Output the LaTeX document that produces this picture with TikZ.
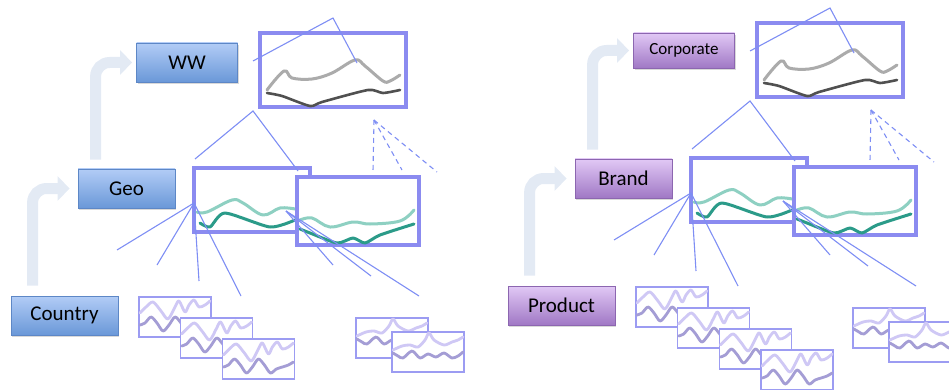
\documentclass[tikz,border=0pt]{standalone}
\usepackage{fontspec}
\setmainfont{Carlito}
\usetikzlibrary{arrows.meta,shadows}
\definecolor{flowgray}{HTML}{E3EAF4}
\definecolor{bluetop}{HTML}{B2CCF6}
\definecolor{bluebot}{HTML}{6A98D8}
\definecolor{blueline}{HTML}{5D87C6}
\definecolor{purpletop}{HTML}{E1C8F5}
\definecolor{purplebot}{HTML}{A078C5}
\definecolor{purpleline}{HTML}{8C66B0}
\definecolor{frameblue}{HTML}{8B8BF0}
\definecolor{zoomblue}{HTML}{7E8EF4}
\definecolor{graylight}{HTML}{ABABAB}
\definecolor{graydark}{HTML}{505050}
\definecolor{teallight}{HTML}{8ED0C2}
\definecolor{tealdark}{HTML}{2B9B89}
\definecolor{lavedge}{HTML}{9C9CF2}
\definecolor{lavlight}{HTML}{CFC8F5}
\definecolor{lavdark}{HTML}{A49DD5}
\begin{document}
\begin{tikzpicture}[x=1pt,y=-1pt,
  tierbox/.style={rectangle,draw=#1line,line width=0.8pt,top color=#1top,bottom color=#1bot,
    drop shadow={opacity=0.3,shadow xshift=1pt,shadow yshift=-2pt},
    font=\fontsize{21}{24}\selectfont,minimum height=39pt,inner sep=0pt},
  flow/.style={draw=flowgray,line width=11pt,rounded corners=14pt,-{Triangle[width=24pt,length=12pt]}},
  chartframe/.style={draw=frameblue,line width=#1,fill=white,inner sep=0pt},
  zoom/.style={draw=zoomblue,line width=1.1pt},
  trace/.style={line width=#1,line join=round,line cap=round},
  every pic/.style={line width=1.3pt},
  minichart/.pic={
    \draw[draw=lavedge,fill=white] (0,0) rectangle (72,40);
    \draw[trace=2.8pt,lavlight] plot[smooth,tension=0.5] coordinates {(1,16) (7,10) (14,5) (22,14) (29,22) (36,10) (40,4) (46,15) (50,8) (55,3) (60,10) (66,8) (71,4)};
    \draw[trace=2.8pt,lavdark] plot[smooth,tension=0.5] coordinates {(1,28) (6,26) (12,20) (18,26) (24,34) (30,28) (36,20) (42,26) (48,34) (54,30) (60,28) (66,26) (71,23)};
  },
  flatchart/.pic={
    \draw[draw=lavedge,fill=white] (0,0) rectangle (72,40);
    \draw[trace=2.8pt,lavlight] plot[smooth,tension=0.5] coordinates {(1,18) (10,14) (18,13) (26,15) (33,8) (37,1) (42,8) (52,13) (60,10) (66,8) (71,5)};
    \draw[trace=2.8pt,lavdark] plot[smooth,tension=0.5] coordinates {(1,21) (6,24) (11,26) (20,19) (28,26) (36,22) (44,25) (52,21) (60,26) (66,24) (71,20)};
  }]
\clip (0,0) rectangle (949,390);
\foreach \dx/\dy/\pre/\hue/\toptext/\tfs/\th/\tcy/\midtext/\bottext/\n in
  {0/0/l/blue/WW/21/39pt/62.5/Geo/Country/3,
   497/-10/r/purple/Corporate/17/35pt/60.5/Brand/Product/4}{
\begin{scope}[shift={(\dx,\dy)}]
% levels
\node[tierbox=\hue,minimum width=107pt] (\pre-bot) at (64.5,315.5) {\bottext};
\node[tierbox=\hue,minimum width=97pt] (\pre-mid) at (126.5,188.5) {\midtext};
\node[tierbox=\hue,minimum width=101pt,minimum height=\th,font=\fontsize{\tfs}{24}\selectfont] (\pre-top) at (187,\tcy) {\toptext};
\draw[flow] (\pre-bot.north west) ++(22,-10) |- ([xshift=-8pt]\pre-mid.west);
\draw[flow] (\pre-mid.north west) ++(18,-9) |- ([xshift=-4pt]\pre-top.west);
% top chart
\node[chartframe=4pt,minimum width=146pt,minimum height=74pt] (\pre-big) at (333,70) {};
\draw[trace=3pt,graylight] plot[smooth,tension=0.6] coordinates {(267,90) (284,71) (292,78) (312,79) (332,73) (355,60) (365,66) (383,81) (390,81) (400,75)};
\draw[trace=2.6pt,graydark] plot[smooth,tension=0.4] coordinates {(267,93) (282,96) (310,106) (322,102) (368,90) (383,93) (400,90)};
\coordinate (\pre-peak) at (333,18);
\draw[zoom] (253,61) -- (\pre-peak) -- (357,63);
\coordinate (\pre-hub) at (374,120);
\foreach \e in {(373,171),(402,170),(437,172)}
  \draw[zoom,dash pattern=on 5pt off 4pt] (\pre-hub) -- \e;
% middle charts
\node[chartframe=3.5pt,minimum width=116pt,minimum height=64pt] (\pre-geoa) at (252,200) {};
\draw[trace=3pt,teallight] plot[smooth,tension=0.6] coordinates {(197,212) (207,212) (232,200) (243,203) (263,215) (280,208) (295,209)};
\draw[trace=3pt,tealdark] plot[smooth,tension=0.4] coordinates {(200,223) (210,227) (225,213) (270,227) (295,220)};
\node[chartframe=3.5pt,minimum width=122pt,minimum height=68pt] (\pre-geob) at (358,211) {};
\draw[trace=3pt,teallight] plot[smooth,tension=0.6] coordinates {(300,220) (312,218) (330,227) (353,222) (370,224) (400,221) (414,210)};
\draw[trace=3pt,tealdark] plot[smooth,tension=0.4] coordinates {(300,229) (310,233) (337,243) (353,238) (365,243) (380,235) (414,224)};
\coordinate (\pre-ridge) at (253,111);
\draw[zoom] (195,159) -- (\pre-ridge) -- (298,171);
\coordinate (\pre-fana) at (194,203);
\foreach \e in {(117,250),(157,265),(199,281),(241,296)}
  \draw[zoom] (\pre-fana) -- \e;
\coordinate (\pre-fanb) at (286,211);
\foreach \e in {(333,265),(371,276),(419,296)}
  \draw[zoom] (\pre-fanb) -- \e;
% small charts
\foreach \k in {1,...,\n}
  \pic at ({139+41.7*(\k-1)},{297+21*(\k-1)}) {minichart};
\pic at (356,318) {flatchart};
\pic[line width=2.5pt] at (392,332) {flatchart};
\end{scope}
}
\end{tikzpicture}
\end{document}
